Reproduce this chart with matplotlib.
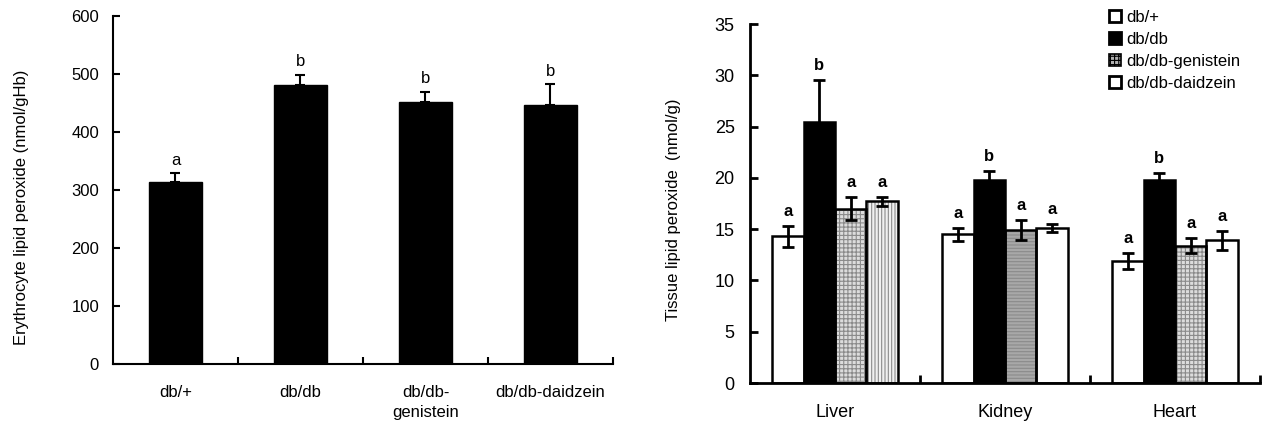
import matplotlib
matplotlib.use("Agg")
import matplotlib.pyplot as plt
import numpy as np
from matplotlib.patches import Patch

plt.rcParams['font.family'] = ['Liberation Sans', 'DejaVu Sans']
plt.rcParams['hatch.linewidth'] = 0.8

# --- Data: erythrocyte ---
ery_groups = ['db/+', 'db/db', 'db/db-\ngenistein', 'db/db-daidzein']
ery_mean = [313, 481, 451, 447]
ery_err = [16, 18, 18, 35]
ery_letters = ['a', 'b', 'b', 'b']

# --- Data: tissue ---
tissues = ['Liver', 'Kidney', 'Heart']
series = ['db/+', 'db/db', 'db/db-genistein', 'db/db-daidzein']
tis_mean = {
    'db/+': [14.3, 14.5, 11.9],
    'db/db': [25.4, 19.8, 19.8],
    'db/db-genistein': [17.0, 14.9, 13.4],
    'db/db-daidzein': [17.7, 15.1, 13.9],
}
tis_err = {
    'db/+': [1.05, 0.65, 0.75],
    'db/db': [4.1, 0.85, 0.65],
    'db/db-genistein': [1.1, 0.95, 0.7],
    'db/db-daidzein': [0.45, 0.4, 0.95],
}
tis_letters = {
    'db/+': ['a', 'a', 'a'],
    'db/db': ['b', 'b', 'b'],
    'db/db-genistein': ['a', 'a', 'a'],
    'db/db-daidzein': ['a', 'a', 'a'],
}

# per-bar fill styles (face, hatch) - the scan shows varying textures
styles = {
    'db/+': [('white', ''), ('white', ''), ('white', '')],
    'db/db': [('black', ''), ('black', ''), ('black', '')],
    'db/db-genistein': [('#dcdcdc', '++++'), ('#a8a8a8', '-----'), ('#dcdcdc', '++++')],
    'db/db-daidzein': [('#f0f0f0', '|||||'), ('white', ''), ('white', '')],
}

fig = plt.figure(figsize=(12.62, 4.25), dpi=100)

# --- Left panel ---
ax1 = fig.add_axes([0.0895, 0.1435, 0.3962, 0.8188])
x = np.arange(len(ery_groups))
ax1.bar(x, ery_mean, width=0.42, color='black', edgecolor='black', zorder=2)
ax1.errorbar(x, ery_mean, yerr=[np.zeros(len(x)), ery_err], fmt='none',
             ecolor='black', elinewidth=1.5, capsize=3.5, capthick=1.5, zorder=3)
for xi, m, e, t in zip(x, ery_mean, ery_err, ery_letters):
    ax1.annotate(t, (xi, m + e), xytext=(0, 4), textcoords='offset points',
                 ha='center', va='bottom', fontsize=12)
ax1.set_xlim(-0.5, 3.5)
ax1.set_ylim(0, 600)
ax1.set_yticks(np.arange(0, 601, 100))
ax1.set_xticks(np.arange(0.5, 3.6, 1))
ax1.set_xticklabels([])
ax1.set_xticks(x, minor=True)
ax1.set_xticklabels(ery_groups, minor=True)
ax1.tick_params(axis='x', which='minor', length=0, pad=15, labelsize=12)
ax1.tick_params(axis='x', which='major', direction='in', length=5, width=1.5)
ax1.tick_params(axis='y', direction='in', length=5, width=1.5, pad=10, labelsize=12)
for lbl in ax1.get_xticklabels(minor=True):
    lbl.set_linespacing(1.45)
    lbl.set_va('top')
for s in ['top', 'right']:
    ax1.spines[s].set_visible(False)
for s in ['left', 'bottom']:
    ax1.spines[s].set_linewidth(1.5)
fig.text(22 / 1262, 1 - 207 / 425, 'Erythrocyte lipid peroxide (nmol/gHb)',
         rotation=90, ha='center', va='center', fontsize=12)

# --- Right panel ---
ax2 = fig.add_axes([0.5943, 0.0988, 0.4041, 0.8447])
xt = np.arange(len(tissues))
bw = 0.185
for i, sname in enumerate(series):
    pos = xt + (i - 1.5) * bw
    faces = [f for f, h in styles[sname]]
    hatches = [h for f, h in styles[sname]]
    bars = ax2.bar(pos, tis_mean[sname], width=bw, color=faces,
                   edgecolor='#8a8a8a', linewidth=0, zorder=2)
    for b, h in zip(bars, hatches):
        b.set_hatch(h)
    ax2.bar(pos, tis_mean[sname], width=bw, fill=False, edgecolor='black',
            linewidth=1.8, zorder=3)
    ax2.errorbar(pos, tis_mean[sname], yerr=tis_err[sname], fmt='none',
                 ecolor='black', elinewidth=2, capsize=4.5, capthick=2, zorder=4)
    for p, m, e, t in zip(pos, tis_mean[sname], tis_err[sname], tis_letters[sname]):
        ax2.annotate(t, (p, m + e), xytext=(0, 5), textcoords='offset points',
                     ha='center', va='bottom', fontsize=12, fontweight='bold')
ax2.set_xlim(-0.5, 2.5)
ax2.set_ylim(0, 35)
ax2.set_yticks(np.arange(0, 36, 5))
ax2.set_xticks(np.arange(0.5, 2.6, 1))
ax2.set_xticklabels([])
ax2.set_xticks(xt, minor=True)
ax2.set_xticklabels(tissues, minor=True)
ax2.tick_params(axis='x', which='minor', length=0, pad=15, labelsize=13)
ax2.tick_params(axis='x', which='major', direction='in', length=6, width=2)
ax2.tick_params(axis='y', direction='in', length=6, width=2, pad=11, labelsize=13)
for s in ['top', 'right']:
    ax2.spines[s].set_visible(False)
for s in ['left', 'bottom']:
    ax2.spines[s].set_linewidth(2)
fig.text(673 / 1262, 1 - 210 / 425, 'Tissue lipid peroxide  (nmol/g)',
         rotation=90, ha='center', va='center', fontsize=12)

handles = [
    Patch(facecolor='white', edgecolor='black', linewidth=2),
    Patch(facecolor='black', edgecolor='black', linewidth=2),
    Patch(facecolor='#b0b0b0', edgecolor='black', linewidth=1.2, hatch='++++'),
    Patch(facecolor='white', edgecolor='black', linewidth=2),
]
fig.legend(handles, series, loc='upper left', bbox_to_anchor=(1109 / 1262, 1 - 10 / 425),
           frameon=False, fontsize=12, handlelength=0.72, handleheight=0.72,
           handletextpad=0.3, labelspacing=0.42, borderpad=0, borderaxespad=0)

fig.savefig('out.png', dpi=100)
